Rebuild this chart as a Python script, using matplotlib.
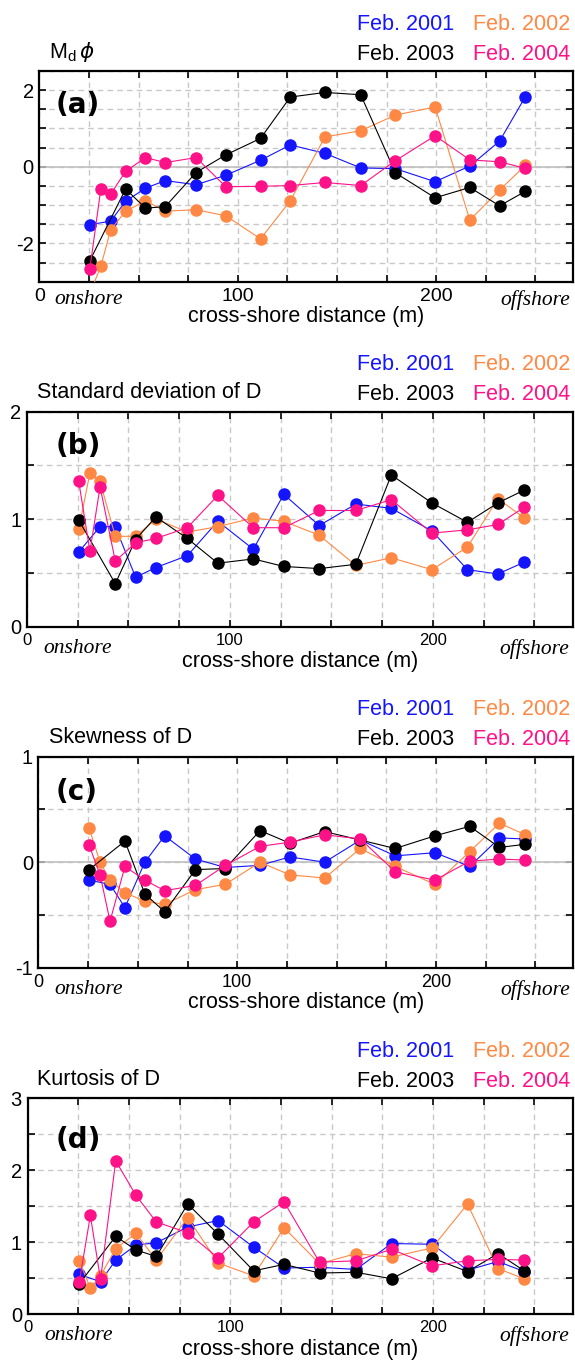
import numpy as np
import matplotlib
matplotlib.use('Agg')
from matplotlib import pyplot as plt

plt.rcParams['font.family'] = ['Liberation Sans', 'DejaVu Sans']

# =============================================================================
# data, cross-shore distance in m
# =============================================================================
dist = [25.5, 31, 36, 43.5, 53.5, 63.5, 79, 94, 111.5, 126.5, 144, 162, 179.5, 199.5, 217, 232, 245]
dist_2001 = [d for i, d in enumerate(dist) if i != 1]
dist_2003 = [d for i, d in enumerate(dist) if i not in (1, 2)]

years = ['Feb. 2001', 'Feb. 2002', 'Feb. 2003', 'Feb. 2004']
colors = ['#1414ff', '#ff8844', 'black', '#ff1188']

md_2001 = [-1.51, -1.42, -0.90, -0.56, -0.36, -0.47, -0.22, 0.17, 0.57, 0.35, -0.03, -0.05, -0.39, 0.02, 0.67, 1.83]
md_2002 = [-3.3, -2.6, -1.64, -1.16, -0.89, -1.16, -1.12, -1.28, -1.88, -0.89, 0.78, 0.94, 1.35, 1.56, -1.39, -0.61, 0.04]
md_2003 = [-2.45, -0.58, -1.08, -1.04, -0.15, 0.31, 0.74, 1.82, 1.94, 1.88, -0.16, -0.81, -0.54, -1.02, -0.64]
md_2004 = [-2.66, -0.58, -0.71, -0.12, 0.24, 0.11, 0.24, -0.52, -0.51, -0.49, -0.41, -0.49, 0.16, 0.81, 0.18, 0.13, -0.04]

sd_2001 = [0.695, 0.93, 0.93, 0.46, 0.55, 0.66, 0.98, 0.72, 1.23, 0.94, 1.14, 1.10, 0.89, 0.53, 0.49, 0.60]
sd_2002 = [0.905, 1.43, 1.35, 0.84, 0.84, 1.0, 0.88, 0.93, 1.01, 0.98, 0.85, 0.57, 0.64, 0.53, 0.74, 1.19, 1.01]
sd_2003 = [0.99, 0.40, 0.81, 1.02, 0.82, 0.59, 0.63, 0.56, 0.54, 0.58, 1.41, 1.15, 0.97, 1.15, 1.27]
sd_2004 = [1.35, 0.70, 1.30, 0.61, 0.78, 0.82, 0.92, 1.22, 0.92, 0.92, 1.08, 1.08, 1.18, 0.87, 0.90, 0.95, 1.11]

sk_2001 = [-0.17, -0.21, -0.43, 0.0, 0.25, 0.03, -0.05, -0.03, 0.05, 0.0, 0.21, 0.06, 0.09, -0.04, 0.23, 0.22]
sk_2002 = [0.32, 0.0, -0.17, -0.29, -0.37, -0.40, -0.26, -0.21, 0.0, -0.12, -0.15, 0.13, -0.04, -0.21, 0.10, 0.37, 0.26]
sk_2003 = [-0.07, 0.20, -0.30, -0.47, -0.07, -0.06, 0.30, 0.18, 0.29, 0.21, 0.13, 0.25, 0.34, 0.14, 0.17]
sk_2004 = [0.16, -0.12, -0.56, -0.04, -0.17, -0.27, -0.22, -0.03, 0.15, 0.19, 0.26, 0.22, -0.09, -0.17, 0.01, 0.03, 0.02]

ku_2001 = [0.55, 0.45, 0.75, 0.96, 0.99, 1.21, 1.30, 0.93, 0.64, 0.65, 0.62, 0.98, 0.97, 0.61, 0.73, 0.59]
ku_2002 = [0.74, 0.36, 0.53, 0.91, 1.12, 0.75, 1.34, 0.71, 0.53, 1.20, 0.70, 0.84, 0.79, 0.92, 1.53, 0.63, 0.49]
ku_2003 = [0.42, 1.08, 0.89, 0.80, 1.53, 1.11, 0.60, 0.69, 0.57, 0.58, 0.49, 0.78, 0.59, 0.84, 0.60]
ku_2004 = [0.44, 1.37, 0.48, 2.13, 1.65, 1.28, 1.13, 0.78, 1.28, 1.56, 0.72, 0.74, 0.90, 0.67, 0.74, 0.76, 0.75]

xs = [dist_2001, dist, dist_2003, dist]

W, H = 575, 1362
fig = plt.figure(figsize=(W / 100, H / 100), dpi=100)


def fig_text(x, y, s, **kw):
    # position in pixels from the top left corner
    return fig.text(x / W, 1 - y / H, s, **kw)


def draw_panel(box, series, ylim, ylabels, ytitle, ytitle_x, tag, tag_y, xtick_fs, zero_line):
    left, top, right, bottom = box
    ax = fig.add_axes([left / W, 1 - bottom / H, (right - left) / W, (bottom - top) / H])
    for x, y, c in zip(xs, series, colors):
        ax.plot(x, y, '-o', color=c, lw=0.8, ms=8, mec=c, zorder=3)
    ax.set_xlim(0, 269)
    ax.set_ylim(*ylim)

    xt = np.arange(0, 270, 25)
    ax.set_xticks(xt)
    ax.set_xticklabels([str(v) if v in (0, 100, 200) else '' for v in xt])
    yt = np.arange(ylim[0], ylim[1] + 1e-9, 0.5)
    ax.set_yticks(yt)
    ax.set_yticklabels(['%d' % round(v) if abs(v - round(v)) < 1e-6 and round(v) in ylabels else '' for v in yt])

    ax.tick_params(direction='in', top=True, right=True, length=5, width=1.2)
    ax.tick_params(axis='x', pad=4.5, labelsize=xtick_fs)
    ax.tick_params(axis='y', pad=4, labelsize=14.5)
    for sp in ax.spines.values():
        sp.set_linewidth(1.6)
    ax.set_axisbelow(True)
    ax.grid(True, color='#c8c8c8', ls=(0, (4, 3)), lw=1)
    if zero_line:
        ax.axhline(0, color='#c0c0c0', lw=1.2, zorder=1.5)

    ax.set_xlabel('cross-shore distance (m)', fontsize=15.5)
    ax.xaxis.set_label_coords(0.5, -24.5 / (bottom - top))
    off = 18 if xtick_fs > 13 else 22
    for xpos, s in ((25, 'onshore'), (250, 'offshore')):
        ax.annotate(s, xy=(xpos, 0), xycoords=ax.get_xaxis_transform(), xytext=(0, -off),
                    textcoords='offset pixels', ha='center', va='center',
                    family='Liberation Serif', style='italic', fontsize=15.5)

    # legend written as coloured text above the frame
    fig_text(357, top - 47, years[0], color=colors[0], fontsize=15.5, va='center')
    fig_text(473, top - 47, years[1], color=colors[1], fontsize=15.5, va='center')
    fig_text(357, top - 17, years[2], color=colors[2], fontsize=15.5, va='center')
    fig_text(473, top - 17, years[3], color=colors[3], fontsize=15.5, va='center')

    fig_text(ytitle_x, top - 19, ytitle, fontsize=15.5, va='center')
    fig_text(56, tag_y, tag, fontsize=20, fontweight='bold', family='DejaVu Sans', va='center')
    return ax


draw_panel((39.3, 71, 573, 281.7), [md_2001, md_2002, md_2003, md_2004], (-3, 2.5), (-2, 0, 2),
           r'M$_\mathregular{d}\,\phi$', 48.8, '(a)', 105.5, 14, True)
draw_panel((27, 411.5, 573, 626.7), [sd_2001, sd_2002, sd_2003, sd_2004], (0, 2), (0, 1, 2),
           'Standard deviation of D', 36.7, '(b)', 446, 12, False)
draw_panel((38.5, 756.7, 573, 967.7), [sk_2001, sk_2002, sk_2003, sk_2004], (-1, 1), (-1, 0, 1),
           'Skewness of D', 48.8, '(c)', 791.7, 13, True)
draw_panel((27.5, 1098.3, 573, 1314), [ku_2001, ku_2002, ku_2003, ku_2004], (0, 3), (0, 1, 2, 3),
           'Kurtosis of D', 36.7, '(d)', 1140, 12, False)

fig.savefig('out.png', dpi=100)
